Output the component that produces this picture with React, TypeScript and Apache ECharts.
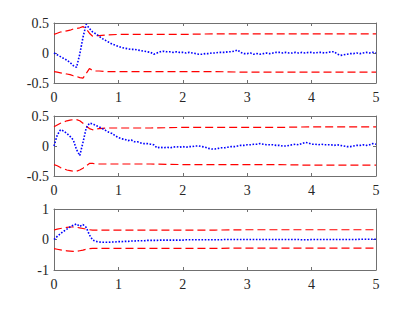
import React, { useEffect, useRef } from "react";
import * as echarts from "echarts";

// sample grid for the blue traces (0 to 5 in steps of 0.05)
const tBlue: number[] = Array.from({ length: 101 }, (_, i) => Math.round(i * 5) / 100);

const blue1 = [
  0, -0.03, -0.06, -0.09, -0.12, -0.16, -0.21, -0.24, -0.02, 0.26,
  0.48, 0.41, 0.35, 0.32, 0.28, 0.24, 0.21, 0.18, 0.15, 0.13,
  0.11, 0.09, 0.08, 0.07, 0.06, 0.06, 0.05, 0.04, 0.03, 0.02,
  0.01, -0.02, 0.0, 0.02, 0.03, 0.02, 0.02, 0.01, 0.02, 0.01,
  0.01, 0.0, 0.01, 0.0, -0.01, -0.02, -0.02, -0.01, -0.01, 0.0,
  0.0, 0.01, 0.01, 0.01, 0.02, 0.02, 0.03, 0.05, 0.01, -0.01,
  -0.01, 0.0, -0.02, -0.01, -0.02, -0.01, 0.0, -0.01, 0.0, 0.01,
  0.01, 0.0, 0.01, 0.0, 0.0, 0.01, 0.0, 0.01, 0.0, 0.01,
  0.01, 0.0, 0.01, 0.01, 0.0, 0.01, 0.02, 0.02, -0.02, -0.04,
  -0.03, -0.02, -0.01, -0.01, 0.0, -0.01, 0.0, 0.01, 0.0, 0.01,
  0.0,
];

const blue2 = [
  0, 0.18, 0.27, 0.25, 0.21, 0.16, 0.1, -0.06, -0.16, 0.06,
  0.3, 0.38, 0.37, 0.34, 0.32, 0.29, 0.26, 0.23, 0.21, 0.17,
  0.14, 0.12, 0.11, 0.09, 0.1, 0.07, 0.07, 0.05, 0.04, 0.04,
  0.03, 0.02, -0.03, -0.02, -0.03, -0.02, -0.03, -0.02, -0.01, -0.02,
  -0.01, -0.02, -0.01, -0.01, 0.0, 0.0, -0.01, -0.02, -0.04, -0.05,
  -0.05, -0.04, -0.03, -0.03, -0.02, -0.01, -0.01, 0.0, 0.01, 0.01,
  0.02, 0.02, 0.03, 0.03, 0.04, 0.03, 0.02, 0.02, 0.02, 0.01,
  0.01, 0.0, 0.0, 0.01, 0.02, 0.03, 0.02, 0.04, 0.06, 0.05,
  0.03, 0.03, 0.02, 0.03, 0.02, 0.02, 0.02, 0.01, 0.02, 0.01,
  0.0, -0.01, -0.01, 0.0, 0.01, 0.01, 0.02, 0.01, 0.02, 0.04,
  0.03,
];

const blue3 = [
  0, 0.1, 0.19, 0.27, 0.34, 0.41, 0.47, 0.51, 0.43, 0.49,
  0.4, 0.15, -0.02, -0.06, -0.08, -0.09, -0.09, -0.09, -0.08, -0.08,
  -0.07, -0.07, -0.06, -0.06, -0.05, -0.05, -0.04, -0.04, -0.04, -0.03,
  -0.03, -0.03, -0.03, -0.02, -0.02, -0.02, -0.02, -0.02, -0.02, -0.02,
  -0.02, -0.01, -0.01, -0.01, -0.01, -0.01, -0.01, -0.01, -0.01, -0.01,
  -0.01, -0.01, -0.01, 0, 0, 0, 0, 0, 0, 0,
  0, 0, 0, 0, 0, 0, 0, 0, 0, 0,
  0, 0, 0, 0, 0, 0, 0, -0.01, -0.01, -0.01,
  0, 0, 0, 0, 0, 0, 0, 0, 0, 0,
  0, 0, 0, 0, 0, 0.01, 0.01, 0.01, 0.01, 0.01,
  0.01,
];

// sample grid for the red bounds
const tBound = [0, 0.05, 0.1, 0.15, 0.2, 0.25, 0.3, 0.35, 0.4, 0.45, 0.5, 0.55, 0.6, 0.65, 0.7, 0.8, 1, 1.5, 2, 2.5, 3, 3.5, 4, 4.5, 5];

const upper1 = [0.31, 0.33, 0.35, 0.36, 0.37, 0.38, 0.4, 0.41, 0.42, 0.44, 0.4, 0.33, 0.28, 0.29, 0.29, 0.3, 0.31, 0.31, 0.31, 0.32, 0.32, 0.32, 0.32, 0.32, 0.32];
const lower1 = [-0.31, -0.32, -0.33, -0.34, -0.35, -0.36, -0.38, -0.39, -0.41, -0.42, -0.34, -0.26, -0.29, -0.3, -0.3, -0.31, -0.31, -0.31, -0.31, -0.31, -0.32, -0.32, -0.32, -0.32, -0.32];
const upper2 = [0.32, 0.35, 0.38, 0.4, 0.42, 0.43, 0.44, 0.44, 0.42, 0.38, 0.33, 0.29, 0.27, 0.28, 0.29, 0.3, 0.3, 0.3, 0.31, 0.31, 0.31, 0.31, 0.32, 0.32, 0.32];
const lower2 = [-0.31, -0.33, -0.36, -0.38, -0.4, -0.41, -0.42, -0.42, -0.4, -0.37, -0.33, -0.29, -0.29, -0.3, -0.3, -0.3, -0.3, -0.3, -0.31, -0.31, -0.31, -0.31, -0.32, -0.32, -0.32];
const upper3 = [0.31, 0.34, 0.36, 0.38, 0.4, 0.41, 0.41, 0.4, 0.38, 0.36, 0.34, 0.32, 0.31, 0.31, 0.31, 0.31, 0.31, 0.31, 0.31, 0.31, 0.32, 0.32, 0.32, 0.32, 0.32];
const lower3 = [-0.3, -0.32, -0.34, -0.36, -0.37, -0.38, -0.39, -0.39, -0.37, -0.35, -0.32, -0.3, -0.29, -0.29, -0.29, -0.29, -0.29, -0.29, -0.29, -0.29, -0.28, -0.28, -0.28, -0.28, -0.28];

const xTicks = { min: 0, max: 5, interval: 1 };
const yRanges = [
  { min: -0.5, max: 0.5, interval: 0.5 },
  { min: -0.5, max: 0.5, interval: 0.5 },
  { min: -1, max: 1, interval: 1 },
];

const AXIS_COLOR = "#707070";
const FONT = "Liberation Serif";

function pairs(t: number[], v: number[]) {
  return t.map((x, i) => [x, v[i]]);
}

export default function App() {
  const ref = useRef<HTMLDivElement>(null);
  useEffect(() => {
    if (!ref.current) return;
    const chart = echarts.init(ref.current, null, { renderer: "svg" });

    const grids = [
      { left: 54, top: 23, width: 322, height: 60 },
      { left: 54, top: 116, width: 322, height: 60 },
      { left: 54, top: 209, width: 322, height: 61 },
    ];

    const makeLabel = (margin: number) => ({
      color: "#262626",
      fontFamily: FONT,
      fontSize: 14,
      margin,
      formatter: "{a|{value}}",
      rich: { a: { color: "#262626", fontFamily: FONT, fontSize: 14 } },
    });

    const xAxes: any[] = [];
    const yAxes: any[] = [];
    grids.forEach((_, g) => {
      xAxes.push({
        gridIndex: g,
        type: "value",
        ...xTicks,
        axisLine: { onZero: false, lineStyle: { color: AXIS_COLOR, width: 1 } },
        axisTick: { inside: true, length: 3, lineStyle: { color: AXIS_COLOR } },
        splitLine: { show: false },
        axisLabel: makeLabel(7),
      });
      xAxes.push({
        gridIndex: g,
        type: "value",
        ...xTicks,
        position: "top",
        axisLine: { onZero: false, lineStyle: { color: AXIS_COLOR, width: 1 } },
        axisTick: { inside: true, length: 3, lineStyle: { color: AXIS_COLOR } },
        splitLine: { show: false },
        axisLabel: { show: false },
      });
      yAxes.push({
        gridIndex: g,
        type: "value",
        ...yRanges[g],
        axisLine: { show: true, onZero: false, lineStyle: { color: AXIS_COLOR, width: 1 } },
        axisTick: { show: true, inside: true, length: 3, lineStyle: { color: AXIS_COLOR } },
        splitLine: { show: false },
        axisLabel: makeLabel(5),
      });
      yAxes.push({
        gridIndex: g,
        type: "value",
        ...yRanges[g],
        position: "right",
        axisLine: { show: true, onZero: false, lineStyle: { color: AXIS_COLOR, width: 1 } },
        axisTick: { show: true, inside: true, length: 3, lineStyle: { color: AXIS_COLOR } },
        splitLine: { show: false },
        axisLabel: { show: false },
      });
    });

    const blues = [blue1, blue2, blue3];
    const uppers = [upper1, upper2, upper3];
    const lowers = [lower1, lower2, lower3];
    const series: any[] = [];
    for (let g = 0; g < 3; g++) {
      const common = { type: "line", xAxisIndex: g * 2, yAxisIndex: g * 2, showSymbol: false, silent: true };
      series.push({
        ...common,
        data: pairs(tBound, uppers[g]),
        lineStyle: { color: "#ff0000", width: 1.2, type: [8, 4] },
      });
      series.push({
        ...common,
        data: pairs(tBound, lowers[g]),
        lineStyle: { color: "#ff0000", width: 1.2, type: [8, 4] },
      });
      series.push({
        ...common,
        data: pairs(tBlue, blues[g]),
        lineStyle: { color: "#0000ff", width: 1.6, type: [1.6, 1.6] },
      });
    }

    chart.setOption({
      animation: false,
      backgroundColor: "#ffffff",
      textStyle: { fontFamily: FONT },
      grid: grids,
      xAxis: xAxes,
      yAxis: yAxes,
      series,
    });
    return () => chart.dispose();
  }, []);
  return (
    <div
      ref={ref}
      style={{ position: "fixed", left: 0, top: 0, width: 415, height: 311 }}
    />
  );
}
